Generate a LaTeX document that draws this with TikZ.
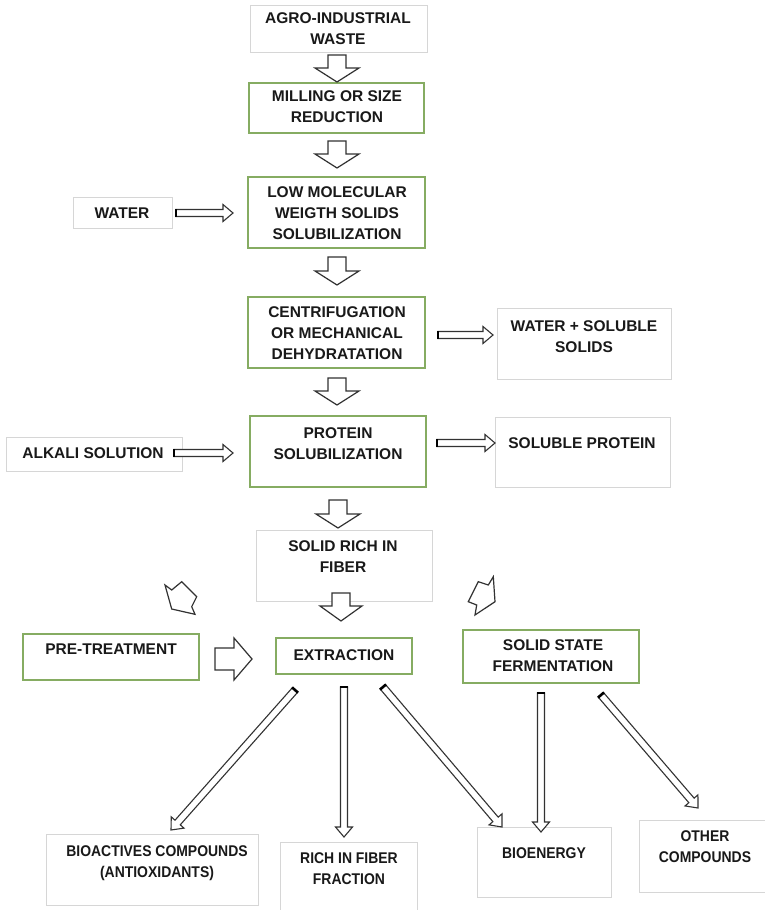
\documentclass[tikz,border=0pt]{standalone}
\usepackage{fontspec}
\setmainfont{Liberation Sans}
\newfontfamily\narrowfont[FakeStretch=0.9]{Liberation Sans}
\usetikzlibrary{calc}
\definecolor{boxgreen}{RGB}{134,172,98}
\definecolor{boxgray}{RGB}{214,214,214}
\definecolor{arrgray}{RGB}{50,50,50}
\tikzset{
 gbox/.style={draw=boxgreen, line width=1.3pt, fill=white, inner sep=0pt, outer sep=0pt},
 lbox/.style={draw=boxgray, line width=1pt, fill=white, inner sep=0pt, outer sep=0pt},
 txt/.style={align=center, inner sep=0pt, text=black!90, font=\bfseries\fontsize{15.5}{21}\selectfont},
 ntxt/.style={align=center, inner sep=0pt, text=black!90, font=\narrowfont\bfseries\fontsize{15.5}{21}\selectfont},
 fatarr/.style={draw=arrgray, line width=1.2pt, fill=white, line join=miter},
 thinarr/.style={draw=arrgray, line width=1.1pt, fill=white, line join=miter},
 tailcap/.style={draw=black, line width=2.6pt},
}
\newcommand\mybox[6]{\node[#2, minimum width={(#5-#3)*1pt}, minimum height={(#6-#4)*1pt}] (#1) at ({(#3+#5)/2},{(#4+#6)/2}) {};}
% block arrow: style, start, end, shaft half width, head half width, head length
\newcommand\blockarrow[6]{\draw[#1] let \p1=(#2), \p2=(#3), \n1={atan2(\y2-\y1,\x2-\x1)}, \n2={veclen(\x2-\x1,\y2-\y1)} in {[shift={(\p1)},rotate=\n1] (0,-#4) -- ({\n2-#6},-#4) -- ({\n2-#6},-#5) -- (\n2,0) -- ({\n2-#6},#5) -- ({\n2-#6},#4) -- (0,#4) -- cycle};}
\newcommand\thinarrow[2]{\blockarrow{thinarr}{#1}{#2}{3.5}{8.5}{10}%
 \draw[tailcap] let \p1=(#1), \p2=(#2), \n1={atan2(\y2-\y1,\x2-\x1)} in {[shift={(\p1)},rotate=\n1] (0,-4) -- (0,4)};}
\begin{document}
\begin{tikzpicture}[x=1pt,y=-1pt]
\useasboundingbox (0,0) rectangle (764,910);
\fill[white] (0,0) rectangle (764,910);
% boxes
\mybox{agro}{lbox}{250}{5}{427}{52}
\mybox{mill}{gbox}{249}{83}{424}{133}
\mybox{low}{gbox}{248}{177}{425}{248}
\mybox{water}{lbox}{73}{197}{172}{228}
\mybox{centrif}{gbox}{248}{297}{425}{368}
\mybox{wss}{lbox}{497}{308}{671}{379}
\mybox{protein}{gbox}{250}{416}{426}{487}
\mybox{alkali}{lbox}{6}{437}{182}{471}
\mybox{sprot}{lbox}{495}{417}{670}{487}
\mybox{solid}{lbox}{256}{530}{432}{601}
\mybox{pre}{gbox}{23}{634}{199}{680}
\mybox{extr}{gbox}{276}{638}{412}{674}
\mybox{ssf}{gbox}{463}{630}{639}{683}
\mybox{bio}{lbox}{46}{834}{258}{905}
\mybox{rich}{lbox}{280}{842}{417}{913}
\mybox{bioen}{lbox}{477}{827}{611}{897}
\mybox{other}{lbox}{639}{820}{766}{892}
% texts
\node[txt] (agrot) at (338,29) {AGRO-INDUSTRIAL\\WASTE};
\node[txt] (millt) at (337,107) {MILLING OR SIZE\\REDUCTION};
\node[txt] (lowt) at (337,213) {LOW MOLECULAR\\WEIGTH SOLIDS\\SOLUBILIZATION};
\node[txt] (watert) at (122,213) {WATER};
\node[txt] (centrift) at (337,333) {CENTRIFUGATION\\OR MECHANICAL\\DEHYDRATATION};
\node[txt] (wsst) at (584,337) {WATER + SOLUBLE\\SOLIDS};
\node[txt] (proteint) at (338,444) {PROTEIN\\SOLUBILIZATION};
\node[txt] (alkalit) at (93,453) {ALKALI SOLUTION};
\node[txt] (sprott) at (582,443) {SOLUBLE PROTEIN};
\node[txt] (solidt) at (343,557) {SOLID RICH IN\\FIBER};
\node[txt] (pret) at (111,649) {PRE-TREATMENT};
\node[txt] (extrt) at (344,655) {EXTRACTION};
\node[txt] (ssft) at (553,656) {SOLID STATE\\FERMENTATION};
\node[ntxt] (biot) at (157,863) {BIOACTIVES COMPOUNDS\\(ANTIOXIDANTS)};
\node[ntxt] (richt) at (349,869) {RICH IN FIBER\\FRACTION};
\node[ntxt] (bioent) at (544,853) {BIOENERGY};
\node[ntxt] (othert) at (705,847) {OTHER\\COMPOUNDS};
% arrow end coordinates
\coordinate (a1s) at (337,55);  \coordinate (a1e) at (337,82);
\coordinate (a2s) at (337,141); \coordinate (a2e) at (337,168);
\coordinate (a3s) at (337,257); \coordinate (a3e) at (337,285);
\coordinate (a4s) at (337,378); \coordinate (a4e) at (337,405);
\coordinate (a5s) at (338,500); \coordinate (a5e) at (338,528);
\coordinate (a6s) at (341,593); \coordinate (a6e) at (341,621);
\coordinate (bps) at (215,659); \coordinate (bpe) at (252,659);
\coordinate (ws) at (176,213);  \coordinate (we) at (233,213);
\coordinate (cs) at (438,335);  \coordinate (ce) at (493,335);
\coordinate (as) at (174,453);  \coordinate (ae) at (233,453);
\coordinate (ps) at (437,443);  \coordinate (pe) at (495,443);
\coordinate (e1s) at (295,690); \coordinate (e1e) at (171,830);
\coordinate (e2s) at (344,687); \coordinate (e2e) at (344,837);
\coordinate (e3s) at (383,687); \coordinate (e3e) at (502,827);
\coordinate (f1s) at (541,693); \coordinate (f1e) at (541,832);
\coordinate (f2s) at (601,695); \coordinate (f2e) at (698,808);
% fat arrows
\blockarrow{fatarr}{a1s}{a1e}{9}{22}{14}
\blockarrow{fatarr}{a2s}{a2e}{9}{22}{14}
\blockarrow{fatarr}{a3s}{a3e}{9}{22}{14}
\blockarrow{fatarr}{a4s}{a4e}{9}{22}{14}
\blockarrow{fatarr}{a5s}{a5e}{9}{22}{14}
\blockarrow{fatarr}{a6s}{a6e}{9}{21}{15}
\blockarrow{fatarr}{bps}{bpe}{11}{21}{18}
% slanted notched arrows
\draw[fatarr] (165,585) -- (171.7,590) -- (181.7,581.7) -- (196.7,596.7) -- (191.7,606.7) -- (195,614.3) -- (171.7,609) -- cycle;
\draw[fatarr] (478.3,581.7) -- (488.3,585) -- (493.3,576.7) -- (495,601.7) -- (475,615) -- (476.7,605) -- (468.3,601.7) -- cycle;
% thin arrows
\thinarrow{ws}{we}
\thinarrow{cs}{ce}
\thinarrow{as}{ae}
\thinarrow{ps}{pe}
\thinarrow{e1s}{e1e}
\thinarrow{e2s}{e2e}
\thinarrow{e3s}{e3e}
\thinarrow{f1s}{f1e}
\thinarrow{f2s}{f2e}
\end{tikzpicture}
\end{document}
